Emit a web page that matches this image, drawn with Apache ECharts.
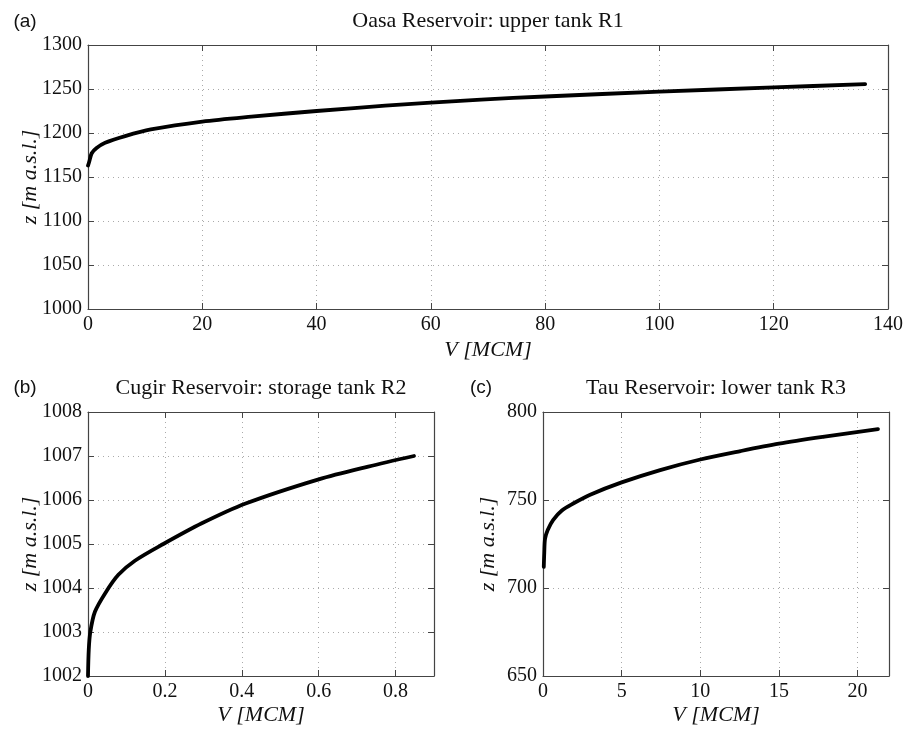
<!DOCTYPE html>
<html>
<head>
<meta charset="utf-8">
<script src="https://cdn.jsdelivr.net/npm/echarts@6/dist/echarts.min.js"></script>
<style>html,body{margin:0;padding:0;background:#fff}#c{width:906px;height:729px}</style>
</head>
<body>
<div id="c"></div>
<script>
// Panel (a): Oasa Reservoir, upper tank R1
const oasaV = [0, 0.2, 0.65, 1.5, 3, 6.5, 11, 20, 28.6, 40, 52, 60, 68.8, 80, 100, 120, 136];
const oasaZ = [1163, 1167, 1177, 1183, 1189, 1196.5, 1204, 1213, 1218.6, 1225, 1231, 1234.5, 1238, 1241.5, 1247, 1251.8, 1255.5];
// Panel (b): Cugir Reservoir, storage tank R2
const cugirV = [0, 0.002, 0.006, 0.018, 0.046, 0.079, 0.122, 0.196, 0.296, 0.41, 0.6, 0.729, 0.848];
const cugirZ = [1002, 1002.6, 1003, 1003.46, 1003.9, 1004.3, 1004.62, 1005, 1005.47, 1005.92, 1006.47, 1006.76, 1007];
// Panel (c): Tau Reservoir, lower tank R3
const tauV = [0.05, 0.08, 0.13, 0.3, 0.64, 1.2, 1.92, 3, 5, 7.45, 10, 12.56, 15, 17.9, 21.3];
const tauZ = [712, 720, 728, 733, 738.6, 744, 748, 753, 760, 767, 773, 777.8, 782, 786, 790.3];

const titles = ['Oasa Reservoir: upper tank R1', 'Cugir Reservoir: storage tank R2', 'Tau Reservoir: lower tank R3'];
const panelLabels = ['(a)', '(b)', '(c)'];
const xName = 'V [MCM]';
const yName = 'z [m a.s.l.]';

const SERIF = '"Liberation Serif", "Times New Roman", serif';
const SANS = '"Liberation Sans", Arial, sans-serif';

const grids = [
  {left: 88, top: 45, width: 801, height: 264},
  {left: 88, top: 412, width: 346, height: 264},
  {left: 543, top: 412, width: 346, height: 264}
];
const ranges = [
  {x: [0, 140, 20], y: [1000, 1300, 50]},
  {x: [0, 0.9, 0.2], y: [1002, 1008, 1]},
  {x: [0, 22, 5], y: [650, 800, 50]}
];
const xNameGaps = [30, 28, 28];
const yNameGaps = [47, 47, 44];

const fmt = v => String(Math.round(v * 1000) / 1000);

const xAxis = [], yAxis = [], series = [];
const lineColor = '#444';
const splitStyle = {show: true, lineStyle: {color: '#aaa', type: [1, 4], width: 1}};
ranges.forEach((r, i) => {
  xAxis.push({
    type: 'value', gridIndex: i, position: 'bottom', min: r.x[0], max: r.x[1], interval: r.x[2],
    name: xName, nameLocation: 'middle', nameGap: xNameGaps[i], nameMoveOverlap: false,
    nameTextStyle: {fontFamily: SERIF, fontStyle: 'italic', fontSize: 22, color: '#111'},
    axisLine: {show: true, onZero: false, lineStyle: {color: lineColor, width: 1.2}},
    axisTick: {show: true, inside: true, length: 6, lineStyle: {color: lineColor}},
    axisLabel: {fontFamily: SERIF, fontSize: 20, color: '#111', margin: 6, showMaxLabel: i === 0, formatter: fmt},
    splitLine: splitStyle
  });
  xAxis.push({
    type: 'value', gridIndex: i, position: 'top', min: r.x[0], max: r.x[1], interval: r.x[2],
    axisLine: {show: true, onZero: false, lineStyle: {color: lineColor, width: 1.2}},
    axisTick: {show: true, inside: true, length: 6, lineStyle: {color: lineColor}},
    axisLabel: {show: false}, splitLine: {show: false}
  });
  yAxis.push({
    type: 'value', gridIndex: i, position: 'left', min: r.y[0], max: r.y[1], interval: r.y[2],
    name: yName, nameLocation: 'middle', nameGap: yNameGaps[i], nameMoveOverlap: false,
    nameTextStyle: {fontFamily: SERIF, fontStyle: 'italic', fontSize: 22, color: '#111'},
    axisLine: {show: true, onZero: false, lineStyle: {color: lineColor, width: 1.2}},
    axisTick: {show: true, inside: true, length: 6, lineStyle: {color: lineColor}},
    axisLabel: {fontFamily: SERIF, fontSize: 20, color: '#111', margin: 6, formatter: fmt},
    splitLine: splitStyle
  });
  yAxis.push({
    type: 'value', gridIndex: i, position: 'right', min: r.y[0], max: r.y[1], interval: r.y[2],
    axisLine: {show: true, onZero: false, lineStyle: {color: lineColor, width: 1.2}},
    axisTick: {show: true, inside: true, length: 6, lineStyle: {color: lineColor}},
    axisLabel: {show: false}, splitLine: {show: false}
  });
});

const vs = [oasaV, cugirV, tauV], zs = [oasaZ, cugirZ, tauZ];
vs.forEach((v, i) => {
  series.push({
    type: 'line', xAxisIndex: 2 * i, yAxisIndex: 2 * i,
    data: v.map((x, k) => [x, zs[i][k]]),
    showSymbol: false, smooth: 0.3,
    lineStyle: {color: '#000', width: 3.8, cap: 'round', join: 'round'}, silent: true
  });
});

const graphic = [];
const titlePos = [[488, 21], [261, 388], [716, 388]];
titles.forEach((t, i) => graphic.push({
  type: 'text', x: titlePos[i][0], y: titlePos[i][1],
  style: {text: t, font: '22px ' + SERIF, fill: '#111', align: 'center', verticalAlign: 'middle'}
}));
const labelPos = [[25, 22], [25, 388], [481, 388]];
panelLabels.forEach((t, i) => graphic.push({
  type: 'text', x: labelPos[i][0], y: labelPos[i][1],
  style: {text: t, font: '19px ' + SANS, fill: '#111', align: 'center', verticalAlign: 'middle'}
}));

const chart = echarts.init(document.getElementById('c'), null, {renderer: 'canvas'});
chart.setOption({
  backgroundColor: '#fff',
  animation: false,
  grid: grids,
  xAxis: xAxis,
  yAxis: yAxis,
  series: series,
  graphic: graphic
});
</script>
</body>
</html>
